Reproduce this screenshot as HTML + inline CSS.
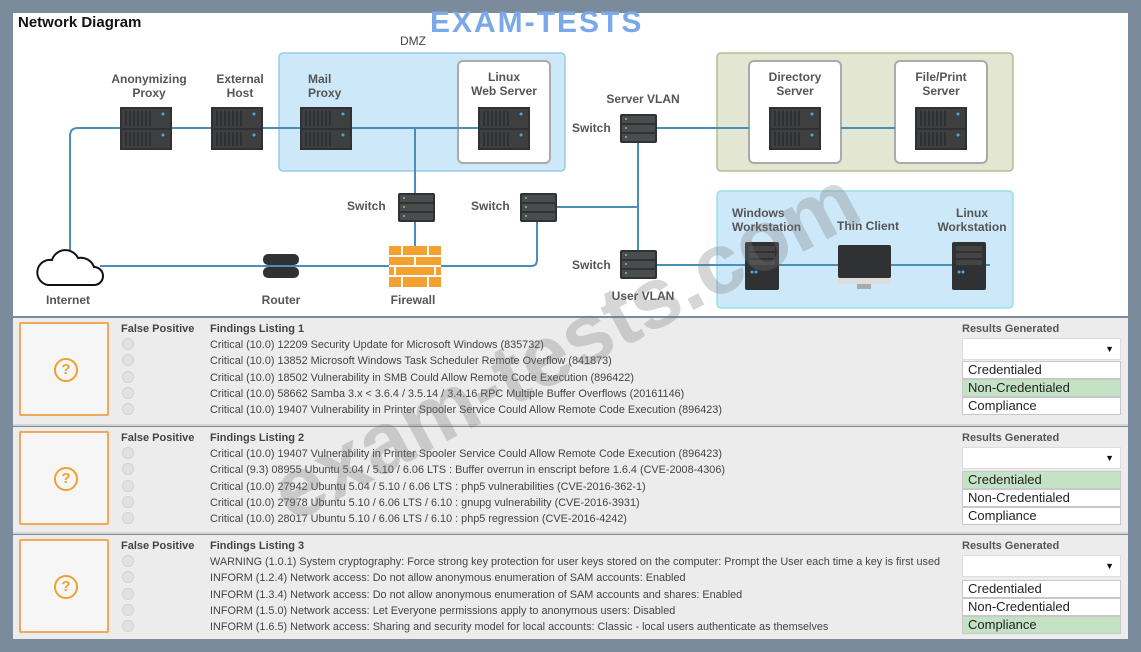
<!DOCTYPE html>
<html><head><meta charset="utf-8">
<style>
*{margin:0;padding:0;box-sizing:border-box}
body{width:1141px;height:652px;background:#7b8b9b;position:relative;overflow:hidden;font-family:"Liberation Sans",sans-serif;color:#333}
.a{position:absolute}
.white{left:13px;top:13px;width:1115px;height:303px;background:#fff}
.panel{left:13px;width:1115px;background:#ececec;border-bottom:2px solid #d4d4d4}
.qbox{left:6px;top:4px;width:90px;height:94px;border:2px solid #f0a85a;background:#f6f6f6;border-radius:2px}
.qc{left:33px;top:34px;width:24px;height:24px;border:2px solid #f0a030;border-radius:50%;color:#f0a030;font-weight:bold;font-size:15px;text-align:center;line-height:20px}
.fp{left:108px;top:5px;font-size:11px;font-weight:bold;color:#444}
.fl{left:197px;top:5px;font-size:11px;font-weight:bold;color:#444}
.rad{width:12px;height:12px;border-radius:50%;background:#e2e2e2;border:1px solid #d0d0d0;left:109px}
.row{left:197px;font-size:10.85px;color:#444;white-space:nowrap}
.rg{left:949px;top:5px;font-size:11px;font-weight:bold;color:#555}
.dd{left:949px;width:159px;height:22px;background:#fff;border:1px solid #ddd;top:20px}
.dd span{position:absolute;right:6px;top:5px;font-size:9px;color:#111}
.opt{left:949px;width:159px;height:18px;background:#fff;border:1px solid #c8c8c8;font-size:13px;padding-left:5px;line-height:16px;color:#222}
.sel{background:#c4e3c4}
.lbl{font-size:12px;font-weight:bold;color:#555;text-align:center;line-height:14px}
</style></head><body>
<div class="a white"></div>
<div class="a" style="left:18px;top:14px;font-size:15px;font-weight:bold;color:#111">Network Diagram</div>
<div class="a" style="left:430px;top:6px;font-size:30px;font-weight:bold;color:#7aa8e8;letter-spacing:2px">EXAM-TESTS</div>
<svg class="a" style="left:0;top:0" width="1141" height="320">
<defs>
<g id="srv"><rect width="52" height="43" fill="#2f3133"/><rect x="2" y="2" width="48" height="19" fill="#3d3f41"/><rect x="2" y="23" width="48" height="18" fill="#3d3f41"/>
<g stroke="#222" stroke-width="1"><path d="M6 4v15M10 4v15M14 4v15M18 4v15M22 4v15M26 4v15M30 4v15M6 25v14M10 25v14M14 25v14M18 25v14M22 25v14M26 25v14M30 25v14"/></g>
<circle cx="43" cy="7" r="1.5" fill="#4aa8e0"/><circle cx="43" cy="28" r="1.5" fill="#4aa8e0"/></g>
<g id="sw"><rect width="37" height="29" rx="2" fill="#2f3133"/><rect x="2" y="2" width="33" height="7" fill="#4a4c4e"/><rect x="2" y="11" width="33" height="7" fill="#4a4c4e"/><rect x="2" y="20" width="33" height="7" fill="#4a4c4e"/><circle cx="6" cy="5" r="1" fill="#7c7"/><circle cx="6" cy="14" r="1" fill="#7c7"/><circle cx="6" cy="23" r="1" fill="#7c7"/></g>
<g id="tw"><rect width="34" height="48" rx="2" fill="#2f3133"/><rect x="4" y="4" width="26" height="5" fill="#444"/><rect x="4" y="11" width="26" height="5" fill="#444"/><rect x="4" y="18" width="26" height="5" fill="#444"/><circle cx="7" cy="30" r="1.5" fill="#4aa8e0"/><circle cx="11" cy="30" r="1.5" fill="#4aa8e0"/></g>
</defs>
<rect x="279" y="53" width="286" height="118" rx="4" fill="#cde8f8" stroke="#9ccae8" stroke-width="1.5"/>
<rect x="458" y="61" width="92" height="102" rx="5" fill="#fff" stroke="#aaa" stroke-width="2"/>
<rect x="717" y="53" width="296" height="118" rx="4" fill="#e4e6d4" stroke="#b2bd92" stroke-width="1.5"/>
<rect x="749" y="61" width="92" height="102" rx="5" fill="#fff" stroke="#aaa" stroke-width="2"/>
<rect x="895" y="61" width="92" height="102" rx="5" fill="#fff" stroke="#aaa" stroke-width="2"/>
<rect x="717" y="191" width="296" height="117" rx="4" fill="#cde8f8" stroke="#9ce0e0" stroke-width="1.5"/>
<g stroke="#4a8fb8" stroke-width="2" fill="none">
<path d="M70 250V136q0-8 8-8H478"/>
<path d="M415 128V250"/>
<path d="M100 266H390"/>
<path d="M440 266H531q6 0 6-6V207"/>
<path d="M556 207H638"/>
<path d="M657 128H749M841 128H895"/>
<path d="M638 143V250"/>
<path d="M657 265H990"/>
</g>
<use href="#srv" x="120" y="107"/><use href="#srv" x="211" y="107"/><use href="#srv" x="300" y="107"/><use href="#srv" x="478" y="107"/>
<use href="#srv" x="769" y="107"/><use href="#srv" x="915" y="107"/>
<use href="#sw" x="398" y="193"/><use href="#sw" x="520" y="193"/><use href="#sw" x="620" y="114"/><use href="#sw" x="620" y="250"/>
<use href="#tw" x="745" y="242"/><use href="#tw" x="952" y="242"/>
<rect x="838" y="245" width="53" height="33" rx="2" fill="#2f3133"/><rect x="838" y="278" width="53" height="6" fill="#ddd"/><rect x="857" y="284" width="14" height="5" fill="#aaa"/>
<path d="M48 285h46a9 9 0 0 0 0-18 14 14 0 0 0-16-9 14 14 0 0 0-26 2 12 12 0 0 0-4 25z" fill="#fff" stroke="#111" stroke-width="2"/>
<g><rect x="263" y="254" width="36" height="11" rx="5" fill="#2f3133"/><rect x="263" y="267" width="36" height="11" rx="5" fill="#2f3133"/></g>
<g><rect x="389" y="246" width="52" height="41" fill="#f5a132"/><g stroke="#fff" stroke-width="2"><path d="M389 256h52M389 266h52M389 276h52M402 246v10M428 246v10M415 256v10M395 266v10M435 266v10M402 276v11M428 276v11"/></g></g>
</svg>
<div class="a" style="left:400px;top:34px;font-size:12px;color:#444">DMZ</div>
<div class="a lbl" style="left:99px;top:72px;width:100px">Anonymizing<br>Proxy</div>
<div class="a lbl" style="left:205px;top:72px;width:70px">External<br>Host</div>
<div class="a lbl" style="left:308px;top:72px;text-align:left">Mail<br>Proxy</div>
<div class="a lbl" style="left:458px;top:70px;width:92px">Linux<br>Web Server</div>
<div class="a lbl" style="left:745px;top:70px;width:100px">Directory<br>Server</div>
<div class="a lbl" style="left:891px;top:70px;width:100px">File/Print<br>Server</div>
<div class="a lbl" style="left:598px;top:92px;width:90px">Server VLAN</div>
<div class="a lbl" style="left:572px;top:121px">Switch</div>
<div class="a lbl" style="left:347px;top:199px">Switch</div>
<div class="a lbl" style="left:471px;top:199px">Switch</div>
<div class="a lbl" style="left:572px;top:258px">Switch</div>
<div class="a lbl" style="left:598px;top:289px;width:90px">User VLAN</div>
<div class="a lbl" style="left:732px;top:206px;text-align:left">Windows<br>Workstation</div>
<div class="a lbl" style="left:828px;top:219px;width:80px">Thin Client</div>
<div class="a lbl" style="left:930px;top:206px;width:84px">Linux<br>Workstation</div>
<div class="a lbl" style="left:38px;top:293px;width:60px">Internet</div>
<div class="a lbl" style="left:251px;top:293px;width:60px">Router</div>
<div class="a lbl" style="left:383px;top:293px;width:60px">Firewall</div>

<div class="a panel" style="top:318px;height:108px">
<div class="a qbox"><div class="a qc">?</div></div>
<div class="a fp">False Positive</div><div class="a fl">Findings Listing 1</div>
<div class="a rad" style="top:20px"></div><div class="a rad" style="top:36px"></div><div class="a rad" style="top:53px"></div><div class="a rad" style="top:69px"></div><div class="a rad" style="top:85px"></div>
<div class="a row" style="top:21px">Critical (10.0) 12209 Security Update for Microsoft Windows (835732)</div>
<div class="a row" style="top:37px">Critical (10.0) 13852 Microsoft Windows Task Scheduler Remote Overflow (841873)</div>
<div class="a row" style="top:54px">Critical (10.0) 18502 Vulnerability in SMB Could Allow Remote Code Execution (896422)</div>
<div class="a row" style="top:70px">Critical (10.0) 58662 Samba 3.x &lt; 3.6.4 / 3.5.14 / 3.4.16 RPC Multiple Buffer Overflows (20161146)</div>
<div class="a row" style="top:86px">Critical (10.0) 19407 Vulnerability in Printer Spooler Service Could Allow Remote Code Execution (896423)</div>
<div class="a rg">Results Generated</div>
<div class="a dd"><span>▼</span></div>
<div class="a opt" style="top:43px">Credentialed</div><div class="a opt sel" style="top:61px">Non-Credentialed</div><div class="a opt" style="top:79px">Compliance</div>
</div>

<div class="a panel" style="top:427px;height:107px">
<div class="a qbox"><div class="a qc">?</div></div>
<div class="a fp">False Positive</div><div class="a fl">Findings Listing 2</div>
<div class="a rad" style="top:20px"></div><div class="a rad" style="top:36px"></div><div class="a rad" style="top:53px"></div><div class="a rad" style="top:69px"></div><div class="a rad" style="top:85px"></div>
<div class="a row" style="top:21px">Critical (10.0) 19407 Vulnerability in Printer Spooler Service Could Allow Remote Code Execution (896423)</div>
<div class="a row" style="top:37px">Critical (9.3) 08955 Ubuntu 5.04 / 5.10 / 6.06 LTS : Buffer overrun in enscript before 1.6.4 (CVE-2008-4306)</div>
<div class="a row" style="top:54px">Critical (10.0) 27942 Ubuntu 5.04 / 5.10 / 6.06 LTS : php5 vulnerabilities (CVE-2016-362-1)</div>
<div class="a row" style="top:70px">Critical (10.0) 27978 Ubuntu 5.10 / 6.06 LTS / 6.10 : gnupg vulnerability (CVE-2016-3931)</div>
<div class="a row" style="top:86px">Critical (10.0) 28017 Ubuntu 5.10 / 6.06 LTS / 6.10 : php5 regression (CVE-2016-4242)</div>
<div class="a rg">Results Generated</div>
<div class="a dd"><span>▼</span></div>
<div class="a opt sel" style="top:44px">Credentialed</div><div class="a opt" style="top:62px">Non-Credentialed</div><div class="a opt" style="top:80px">Compliance</div>
</div>

<div class="a panel" style="top:535px;height:104px;border-bottom:none">
<div class="a qbox"><div class="a qc">?</div></div>
<div class="a fp">False Positive</div><div class="a fl">Findings Listing 3</div>
<div class="a rad" style="top:20px"></div><div class="a rad" style="top:36px"></div><div class="a rad" style="top:53px"></div><div class="a rad" style="top:69px"></div><div class="a rad" style="top:85px"></div>
<div class="a row" style="top:21px">WARNING (1.0.1) System cryptography: Force strong key protection for user keys stored on the computer: Prompt the User each time a key is first used</div>
<div class="a row" style="top:37px">INFORM (1.2.4) Network access: Do not allow anonymous enumeration of SAM accounts: Enabled</div>
<div class="a row" style="top:54px">INFORM (1.3.4) Network access: Do not allow anonymous enumeration of SAM accounts and shares: Enabled</div>
<div class="a row" style="top:70px">INFORM (1.5.0) Network access: Let Everyone permissions apply to anonymous users: Disabled</div>
<div class="a row" style="top:86px">INFORM (1.6.5) Network access: Sharing and security model for local accounts: Classic - local users authenticate as themselves</div>
<div class="a rg">Results Generated</div>
<div class="a dd"><span>▼</span></div>
<div class="a opt" style="top:45px">Credentialed</div><div class="a opt" style="top:63px">Non-Credentialed</div><div class="a opt sel" style="top:81px">Compliance</div>
</div>

<div class="a" style="left:255px;top:455px;font-size:86px;font-weight:bold;color:rgba(120,120,120,0.3);transform:rotate(-28deg);transform-origin:0 0;white-space:nowrap;width:700px">exam-tests.com</div>
</body></html>
